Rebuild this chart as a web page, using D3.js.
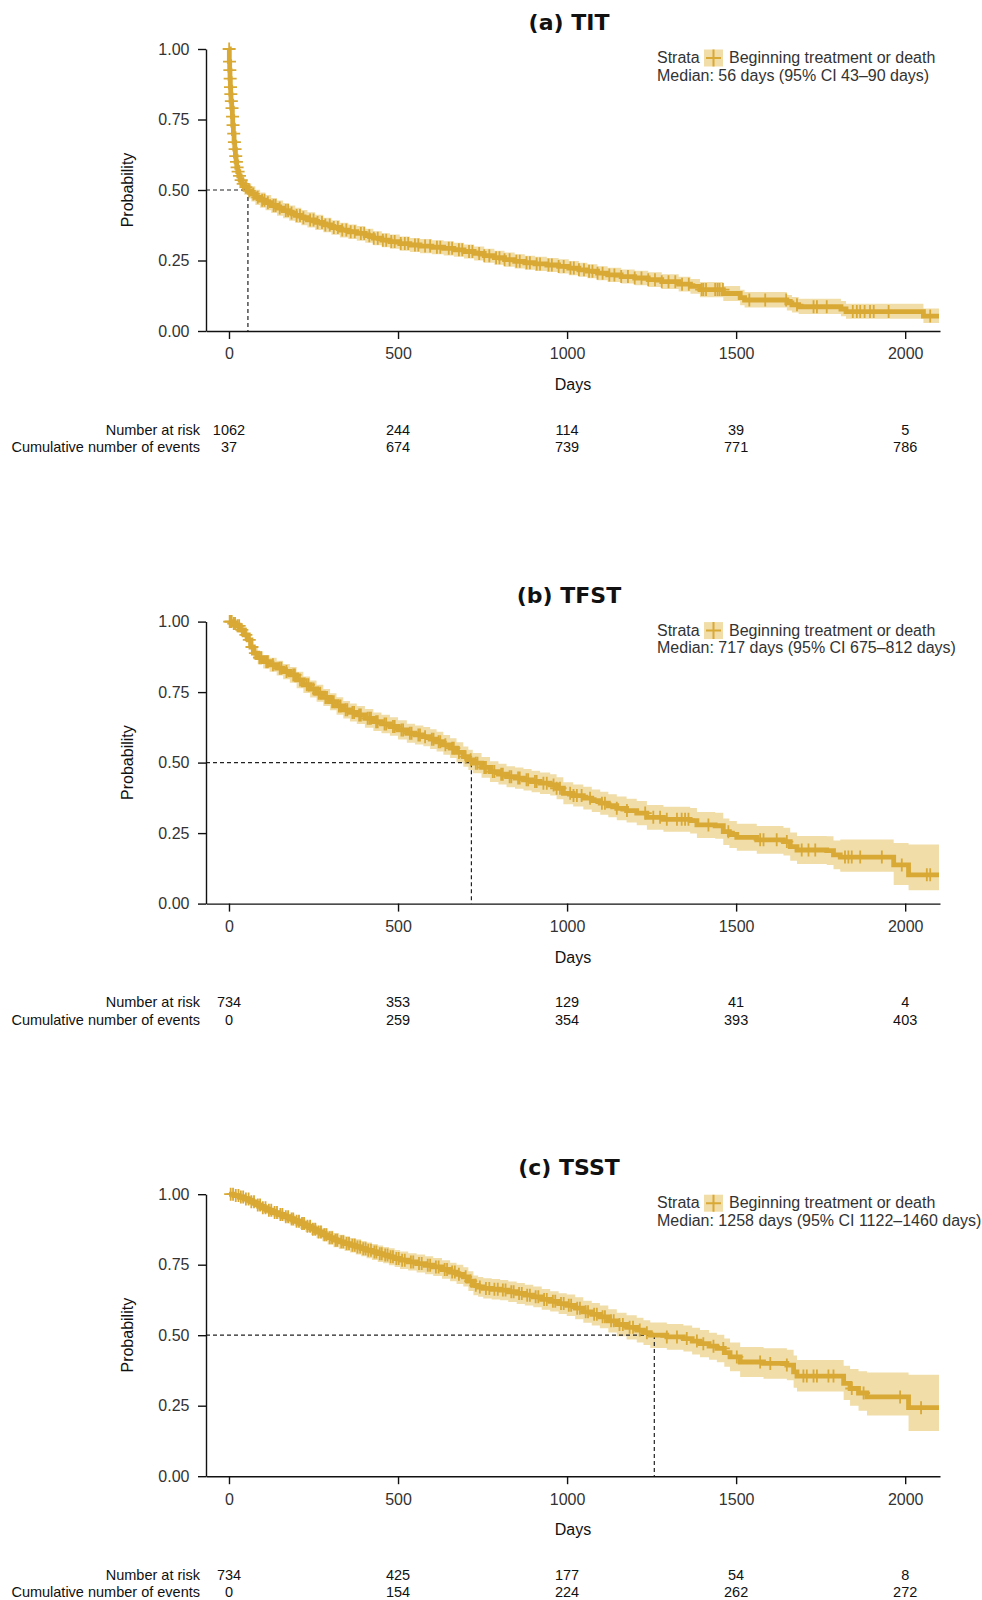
<!DOCTYPE html>
<html lang="en">
<head>
<meta charset="UTF-8">
<title>Kaplan-Meier: TIT, TFST, TSST</title>
<style>
  body { margin: 0; background: #fff; }
  text { font-family: "Liberation Sans", Arial, sans-serif; }
  .title { font-family: "DejaVu Sans", Verdana, sans-serif; font-weight: bold; font-size: 22px; fill: #111; }
  .axis-title { font-size: 16px; fill: #111; }
  .legend { font-size: 16px; fill: #333; }
  .risk { font-size: 14.5px; fill: #111; }
</style>
</head>
<body>
<svg id="chart" width="982" height="1600"></svg>
<script src="https://d3js.org/d3.v7.min.js"></script>
<script>
// ---- data ----
const dayTicks = [0, 500, 1000, 1500, 2000];
const probTicks = [0, 0.25, 0.5, 0.75, 1];
const followUpEnd = 2100;

// (a) TIT
const titDays = [0, 1, 2, 3, 4, 5, 6, 8, 10, 11, 13, 15, 17, 19, 21, 23, 26, 29, 33, 38,
  45, 56, 66, 78, 92, 108, 125, 142, 160, 178, 196, 214, 232, 255, 279, 303, 328, 353, 378, 403,
  427, 452, 476, 505, 535, 565, 600, 635, 665, 695, 725, 755, 785, 815, 845, 875, 905, 940, 975, 1005,
  1035, 1060, 1090, 1120, 1160, 1200, 1240, 1280, 1330, 1365, 1393, 1462, 1512, 1525, 1650, 1665, 1685, 1810, 1825, 2054];
const titSurv = [1.0, .955, .925, .895, .865, .84, .815, .79, .76, .73, .70, .67, .645, .62, .60, .58, .565, .55, .535, .522,
  .51, .497, .486, .474, .464, .455, .445, .436, .427, .418, .41, .402, .394, .385, .376, .367, .358, .352, .346, .338,
  .329, .322, .317, .31, .305, .301, .297, .293, .288, .282, .275, .267, .26, .253, .247, .242, .238, .234, .229, .223,
  .217, .212, .205, .199, .193, .188, .182, .175, .166, .158, .147, .133, .118, .110, .100, .093, .086, .078, .069, .053];
const titLower = [1.0, .943, .909, .877, .845, .818, .792, .766, .735, .704, .673, .643, .618, .593, .573, .553, .538, .523, .508, .495,
  .483, .470, .459, .447, .437, .428, .418, .409, .400, .391, .383, .375, .367, .358, .350, .341, .332, .326, .320, .313,
  .304, .297, .292, .285, .280, .276, .272, .268, .263, .257, .250, .242, .235, .228, .222, .217, .213, .209, .204, .198,
  .192, .187, .180, .174, .168, .162, .156, .149, .140, .132, .120, .106, .091, .083, .073, .066, .060, .052, .043, .028];
const titUpper = [1.0, .967, .941, .913, .885, .862, .838, .814, .785, .756, .727, .697, .672, .647, .627, .607, .592, .577, .562, .549,
  .537, .524, .513, .501, .491, .482, .472, .463, .454, .445, .437, .429, .421, .412, .402, .393, .384, .378, .372, .363,
  .354, .347, .342, .335, .330, .326, .322, .318, .313, .307, .300, .292, .285, .278, .272, .267, .263, .259, .254, .248,
  .242, .237, .230, .224, .218, .214, .208, .201, .192, .184, .174, .160, .146, .138, .128, .121, .114, .106, .097, .080];
const titCensor = [0.5, 1.5, 2.5, 3.5, 4.5, 5.5, 7, 9, 10.5, 12, 14, 16, 18, 20, 22, 24, 27, 31, 36, 42,
  50, 60, 72, 85, 98, 105, 115, 132, 138, 150, 168, 175, 185, 200, 210, 220, 240, 250, 262, 275,
  285, 298, 310, 322, 335, 347, 360, 372, 390, 400, 415, 428, 440, 455, 465, 480, 490, 508, 520, 530,
  550, 560, 580, 595, 615, 625, 650, 660, 680, 690, 710, 720, 740, 755, 770, 790, 800, 815, 830, 850,
  860, 880, 890, 910, 920, 945, 955, 975, 990, 1010, 1020, 1035, 1050, 1065, 1075, 1090, 1105, 1125, 1140, 1160,
  1180, 1200, 1220, 1240, 1260, 1280, 1300, 1320, 1340, 1360, 1398, 1403, 1411, 1438, 1445, 1451, 1461, 1539, 1586, 1648,
  1680, 1729, 1739, 1768, 1845, 1857, 1867, 1880, 1896, 1907, 1951, 2074];
const titRisk = [1062, 244, 114, 39, 5];
const titEvents = [37, 674, 739, 771, 786];

// (b) TFST
const tfstDays = [0, 10, 20, 32, 45, 57, 65, 72, 85, 101, 120, 141, 160, 180, 200, 220, 240, 259, 279, 299,
  318, 338, 358, 378, 402, 427, 451, 476, 500, 526, 550, 575, 595, 614, 634, 654, 673, 693, 708, 721,
  747, 772, 797, 821, 846, 871, 895, 920, 950, 969, 989, 1018, 1048, 1073, 1098, 1122, 1147, 1176, 1206, 1236,
  1285, 1364, 1384, 1438, 1462, 1480, 1502, 1561, 1640, 1660, 1680, 1768, 1788, 1808, 1966, 2010];
const tfstSurv = [1.0, .993, .985, .971, .953, .935, .91, .888, .872, .858, .847, .835, .823, .811, .793, .776, .761, .746, .731, .716,
  .701, .687, .678, .669, .657, .645, .637, .628, .616, .604, .598, .592, .583, .574, .563, .551, .536, .521, .51, .498,
  .483, .468, .459, .450, .445, .439, .433, .427, .421, .409, .391, .383, .374, .365, .356, .347, .338, .330, .321, .306,
  .299, .294, .279, .276, .255, .245, .235, .226, .220, .202, .190, .188, .173, .165, .137, .102];
const tfstLower = [1.0, .987, .976, .959, .938, .917, .890, .866, .849, .834, .822, .809, .796, .783, .764, .747, .731, .716, .701, .686,
  .670, .656, .646, .637, .624, .612, .604, .595, .582, .570, .564, .558, .548, .539, .528, .516, .500, .485, .474, .462,
  .446, .431, .422, .413, .407, .401, .395, .389, .383, .370, .352, .344, .334, .325, .315, .306, .296, .288, .278, .262,
  .255, .249, .233, .230, .208, .197, .187, .177, .171, .152, .140, .137, .122, .113, .066, .047];
const tfstUpper = [1.0, .999, .994, .983, .968, .953, .930, .910, .895, .882, .872, .861, .850, .839, .822, .805, .791, .776, .761, .746,
  .732, .718, .710, .701, .690, .678, .670, .661, .650, .638, .632, .626, .618, .609, .598, .586, .572, .557, .546, .534,
  .520, .505, .496, .487, .483, .477, .471, .465, .459, .448, .430, .422, .414, .405, .397, .388, .380, .372, .364, .350,
  .343, .339, .325, .322, .302, .293, .283, .275, .269, .252, .240, .239, .224, .227, .215, .210];
const tfstCensor = [2, 5, 8, 14, 18, 25, 30, 38, 50, 60, 68, 78, 90, 95, 110, 115, 130, 150, 155, 170,
  190, 195, 210, 230, 235, 250, 265, 270, 285, 290, 305, 310, 325, 330, 345, 350, 365, 370, 385, 390,
  410, 415, 420, 435, 440, 460, 465, 485, 490, 510, 515, 535, 540, 560, 565, 580, 600, 605, 620, 625,
  640, 660, 665, 680, 700, 715, 730, 735, 755, 760, 780, 785, 805, 810, 830, 835, 855, 860, 880, 885,
  905, 910, 930, 940, 960, 969, 979, 1009, 1019, 1029, 1043, 1068, 1103, 1112, 1147, 1177, 1231, 1255, 1275, 1295,
  1325, 1339, 1349, 1359, 1418, 1477, 1571, 1581, 1620, 1650, 1694, 1714, 1734, 1822, 1832, 1842, 1867, 1931, 1990, 2064, 2074];
const tfstRisk = [734, 353, 129, 41, 4];
const tfstEvents = [0, 259, 354, 393, 403];

// (c) TSST
const tsstDays = [0, 15, 30, 45, 62, 80, 95, 111, 128, 145, 161, 178, 194, 210, 226, 243, 259, 276, 292, 309,
  325, 342, 358, 375, 391, 407, 423, 440, 456, 473, 490, 506, 530, 555, 580, 604, 630, 654, 673, 693,
  708, 723, 737, 752, 777, 802, 826, 851, 875, 900, 925, 950, 975, 999, 1024, 1048, 1073, 1097, 1122, 1147,
  1176, 1206, 1226, 1246, 1295, 1344, 1370, 1393, 1420, 1443, 1465, 1482, 1512, 1581, 1650, 1670, 1680, 1818, 1837, 1862,
  1887, 2010];
const tsstSurv = [1.0, .995, .99, .983, .973, .962, .952, .943, .935, .928, .92, .912, .904, .896, .886, .876, .866, .856, .846, .837,
  .831, .825, .819, .813, .807, .801, .795, .789, .784, .778, .772, .766, .76, .754, .748, .742, .733, .724, .716, .707,
  .692, .677, .671, .666, .663, .66, .654, .648, .642, .636, .627, .62, .612, .606, .596, .583, .574, .565, .551, .538,
  .528, .518, .509, .5, .494, .488, .479, .47, .461, .453, .438, .423, .405, .4, .394, .37, .355, .329, .311, .295,
  .281, .243];
const tsstLower = [1.0, .991, .984, .975, .963, .951, .940, .930, .921, .913, .904, .895, .886, .877, .866, .855, .844, .833, .822, .812,
  .806, .799, .793, .786, .780, .773, .767, .760, .755, .748, .742, .735, .729, .722, .716, .710, .700, .691, .682, .673,
  .657, .642, .636, .630, .627, .624, .618, .611, .605, .599, .590, .584, .575, .568, .557, .544, .534, .525, .510, .496,
  .485, .474, .465, .455, .448, .442, .432, .422, .413, .404, .388, .372, .352, .346, .340, .314, .300, .270, .250, .232,
  .215, .160];
const tsstUpper = [1.0, .999, .996, .991, .983, .973, .964, .956, .949, .943, .936, .929, .922, .915, .906, .897, .888, .879, .870, .862,
  .856, .851, .845, .840, .834, .829, .823, .818, .813, .808, .802, .797, .791, .786, .780, .774, .766, .757, .750, .741,
  .727, .712, .706, .702, .699, .696, .690, .685, .679, .673, .664, .656, .649, .644, .635, .622, .614, .605, .592, .580,
  .571, .562, .553, .545, .540, .534, .526, .518, .509, .502, .488, .474, .458, .454, .448, .428, .412, .392, .380, .372,
  .368, .360];
const tsstCensor = [5, 12, 20, 28, 35, 42, 50, 58, 66, 74, 85, 92, 100, 108, 118, 125, 135, 142, 152, 158,
  168, 175, 185, 190, 200, 207, 216, 222, 232, 240, 248, 255, 265, 272, 282, 288, 298, 305, 315, 320,
  332, 338, 348, 355, 365, 372, 380, 388, 397, 404, 412, 420, 430, 436, 446, 452, 462, 469, 478, 485,
  495, 502, 512, 520, 538, 545, 562, 570, 588, 595, 612, 620, 638, 645, 660, 668, 680, 700, 715, 730,
  742, 760, 770, 785, 795, 810, 818, 835, 842, 858, 866, 882, 890, 907, 915, 932, 940, 958, 965, 982,
  990, 1005, 1012, 1030, 1038, 1055, 1062, 1080, 1088, 1105, 1112, 1130, 1138, 1155, 1165, 1185, 1195, 1215, 1236, 1295,
  1325, 1354, 1384, 1403, 1433, 1462, 1502, 1571, 1601, 1650, 1699, 1709, 1729, 1739, 1773, 1788, 1842, 1877, 1985, 2047];
const tsstRisk = [734, 425, 177, 54, 8];
const tsstEvents = [0, 154, 224, 262, 272];

const titles = ["(a) TIT", "(b) TFST", "(c) TSST"];
const medians = [56, 717, 1258];
const medianLabels = [
  "Median: 56 days (95% CI 43\u201390 days)",
  "Median: 717 days (95% CI 675\u2013812 days)",
  "Median: 1258 days (95% CI 1122\u20131460 days)"
];
const strataLabel = "Beginning treatment or death";

const panels = [
  { days: titDays, surv: titSurv, lower: titLower, upper: titUpper, censor: titCensor, risk: titRisk, events: titEvents },
  { days: tfstDays, surv: tfstSurv, lower: tfstLower, upper: tfstUpper, censor: tfstCensor, risk: tfstRisk, events: tfstEvents },
  { days: tsstDays, surv: tsstSurv, lower: tsstLower, upper: tsstUpper, censor: tsstCensor, risk: tsstRisk, events: tsstEvents }
];

// ---- layout ----
const lineColor = "#D9A935";
const bandColor = "#F0DDA8";
const panelStep = 572.6;
const plotTop = 49, plotBottom = 331;

const svg = d3.select("#chart");

const x = d3.scaleLinear().domain([-68, 2103]).range([206, 940]);
const y = d3.scaleLinear().domain([0, 1]).range([plotBottom, plotTop]);

panels.forEach((p, i) => {
  const g = svg.append("g").attr("transform", `translate(0,${i * panelStep})`);

  const rows = p.days.map((d, j) => ({ day: d, s: p.surv[j], lo: p.lower[j], hi: p.upper[j] }));
  const last = rows[rows.length - 1];
  rows.push({ day: followUpEnd, s: last.s, lo: last.lo, hi: last.hi });

  // confidence band
  g.append("path")
    .datum(rows)
    .attr("fill", bandColor)
    .attr("d", d3.area().curve(d3.curveStepAfter)
      .x(d => x(d.day)).y0(d => y(d.lo)).y1(d => y(d.hi)));

  // median guide lines
  const mx = x(medians[i]);
  g.append("path")
    .attr("d", `M${x.range()[0]},${y(0.5)}H${mx}V${y(0)}`)
    .attr("fill", "none")
    .attr("stroke", "#222")
    .attr("stroke-width", 1.2)
    .attr("stroke-dasharray", "4,3");

  // survival curve
  g.append("path")
    .datum(rows)
    .attr("fill", "none")
    .attr("stroke", lineColor)
    .attr("stroke-width", 4.8)
    .attr("d", d3.line().curve(d3.curveStepAfter).x(d => x(d.day)).y(d => y(d.s)));

  // censor marks
  const survAt = t => p.surv[Math.max(0, d3.bisectRight(p.days, t) - 1)];
  g.append("g").selectAll("path")
    .data(p.censor)
    .join("path")
    .attr("d", t => {
      const cx = x(t), cy = y(survAt(t));
      return `M${cx - 6.5},${cy}h13M${cx},${cy - 6.5}v13`;
    })
    .attr("stroke", lineColor)
    .attr("stroke-width", 1.8)
    .attr("fill", "none");

  // axes
  const yAxis = g.append("g")
    .attr("transform", `translate(${x.range()[0]},0)`)
    .call(d3.axisLeft(y).tickValues(probTicks).tickFormat(d3.format(".2f"))
      .tickSize(8).tickSizeOuter(0).tickPadding(8.5));
  const xAxis = g.append("g")
    .attr("transform", `translate(0,${plotBottom})`)
    .call(d3.axisBottom(x).tickValues(dayTicks).tickFormat(d3.format("d"))
      .tickSize(8).tickSizeOuter(0).tickPadding(9));
  [yAxis, xAxis].forEach(a => {
    a.attr("font-size", 16).attr("font-family", "Liberation Sans, Arial, sans-serif");
    a.selectAll("path, line").attr("stroke", "#111").attr("stroke-width", 1.4);
    a.selectAll("text").attr("fill", "#333");
  });

  // axis titles
  g.append("text").attr("class", "axis-title")
    .attr("transform", `translate(133,${(plotTop + plotBottom) / 2}) rotate(-90)`)
    .attr("text-anchor", "middle")
    .text("Probability");
  g.append("text").attr("class", "axis-title")
    .attr("x", (x.range()[0] + x.range()[1]) / 2)
    .attr("y", 390)
    .attr("text-anchor", "middle")
    .text("Days");

  // title
  g.append("text").attr("class", "title")
    .attr("x", 569).attr("y", 30)
    .attr("text-anchor", "middle")
    .text(titles[i]);

  // legend
  const lg = g.append("g");
  lg.append("text").attr("class", "legend").attr("x", 657).attr("y", 63.3).text("Strata");
  lg.append("rect").attr("x", 704).attr("y", 49.5).attr("width", 19).attr("height", 17).attr("fill", bandColor);
  lg.append("path").attr("d", "M706,58h15M713.5,49.5v17")
    .attr("stroke", lineColor).attr("stroke-width", 2);
  lg.append("text").attr("class", "legend").attr("x", 729).attr("y", 63.3).text(strataLabel);
  lg.append("text").attr("class", "legend").attr("x", 657).attr("y", 80.5).text(medianLabels[i]);

  // risk table
  const rg = g.append("g");
  rg.append("text").attr("class", "risk").attr("x", 200).attr("y", 434.5)
    .attr("text-anchor", "end").text("Number at risk");
  rg.append("text").attr("class", "risk").attr("x", 200).attr("y", 452)
    .attr("text-anchor", "end").text("Cumulative number of events");
  rg.selectAll(".nrisk").data(p.risk).join("text")
    .attr("class", "risk nrisk")
    .attr("x", (d, j) => x(dayTicks[j])).attr("y", 434.5)
    .attr("text-anchor", "middle").text(d => d);
  rg.selectAll(".nev").data(p.events).join("text")
    .attr("class", "risk nev")
    .attr("x", (d, j) => x(dayTicks[j])).attr("y", 452)
    .attr("text-anchor", "middle").text(d => d);
});
</script>
</body>
</html>
